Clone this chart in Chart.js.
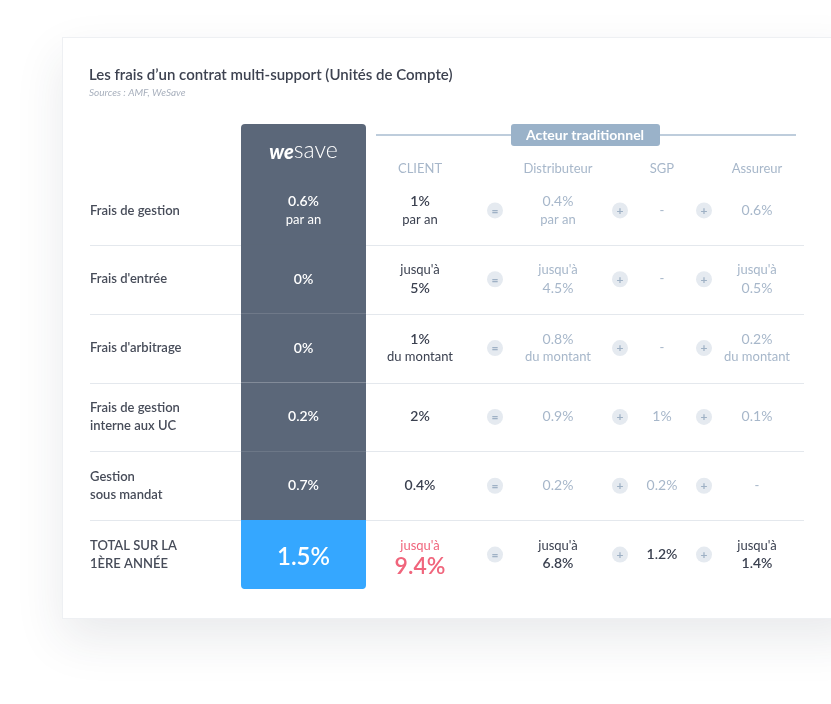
<!DOCTYPE html>
<html><head><meta charset="utf-8">
<script src="https://cdn.jsdelivr.net/npm/chart.js@4"></script>
<style>
body{margin:0;background:#fff;width:831px;height:704px;overflow:hidden;position:relative}
#card{position:absolute;left:62px;top:37px;width:800px;height:580px;background:#fff;border:1px solid #eef0f3;box-shadow:0 20px 45px rgba(40,50,70,0.10)}
canvas{display:block}
</style></head><body>
<div id="card"><canvas id="feesChart" width="800" height="580"></canvas></div>
<script>
const rowLabels = [
  ["Frais de gestion"], ["Frais d'entrée"], ["Frais d'arbitrage"],
  ["Frais de gestion", "interne aux UC"], ["Gestion", "sous mandat"], ["TOTAL SUR LA", "1ÈRE ANNÉE"]
];
const wesave = [["0.6%", "par an"], ["0%"], ["0%"], ["0.2%"], ["0.7%"], ["1.5%"]];
const client = [["1%", "par an"], ["jusqu'à", "5%"], ["1%", "du montant"], ["2%"], ["0.4%"], ["jusqu'à", "9.4%"]];
const distributeur = [["0.4%", "par an"], ["jusqu'à", "4.5%"], ["0.8%", "du montant"], ["0.9%"], ["0.2%"], ["jusqu'à", "6.8%"]];
const sgp = [["-"], ["-"], ["-"], ["1%"], ["0.2%"], ["1.2%"]];
const assureur = [["0.6%"], ["jusqu'à", "0.5%"], ["0.2%", "du montant"], ["0.1%"], ["-"], ["jusqu'à", "1.4%"]];
const headers = ["CLIENT", "Distributeur", "SGP", "Assureur"];

// layout (card pixels on the x scale)
const X = { label: 27, wesaveL: 178, wesaveR: 303, client: 357, eq: 432, distrib: 495, plus1: 557, sgp: 599, plus2: 641, assureur: 694, lineR: 741 };
const FONT = "Lato, 'Open Sans', sans-serif";
const DARK = "#3b4150", LIGHT = "#a7b7ca", COL = "#5b6779", BLUE = "#35a7ff";

const labelsIdx = rowLabels.map((r, i) => i);
const last = rowLabels.length - 1;

const tablePlugin = {
  id: "table",
  beforeDatasetsDraw(chart) {
    const { ctx } = chart, y = chart.scales.y;
    ctx.save();
    ctx.strokeStyle = "#e4e8ed"; ctx.lineWidth = 1;
    for (let i = 0; i < last; i++) {
      const yy = Math.round((y.getPixelForValue(i) + y.getPixelForValue(i + 1)) / 2) + 0.5;
      ctx.beginPath(); ctx.moveTo(X.label, yy); ctx.lineTo(X.lineR, yy); ctx.stroke();
    }
    // column header part above first row
    const top = y.getPixelForValue(0) - (y.getPixelForValue(1) - y.getPixelForValue(0)) / 2;
    ctx.fillStyle = COL;
    ctx.beginPath(); ctx.roundRect(X.wesaveL, 86, X.wesaveR - X.wesaveL, top - 86 + 1, [4, 4, 0, 0]); ctx.fill();
    ctx.restore();
  },
  afterDatasetsDraw(chart) {
    const { ctx } = chart, y = chart.scales.y;
    ctx.save();
    ctx.textBaseline = "middle"; ctx.textAlign = "left";
    ctx.fillStyle = "#3d4250"; ctx.font = "600 15px " + FONT;
    ctx.fillText("Les frais d’un contrat multi-support (Unités de Compte)", 26, 37);
    ctx.fillStyle = "#a8b0bd"; ctx.font = "italic 10px " + FONT;
    ctx.fillText("Sources : AMF, WeSave", 26, 55);

    // logo
    const lx = (X.wesaveL + X.wesaveR) / 2;
    ctx.fillStyle = "#fff"; ctx.font = "italic 900 20px " + FONT;
    const w1 = ctx.measureText("we").width;
    ctx.font = "300 23px " + FONT;
    const w2 = ctx.measureText("save").width;
    const sx = lx - (w1 + w2) / 2;
    ctx.font = "italic 900 20px " + FONT; ctx.fillText("we", sx, 115);
    ctx.font = "300 23px " + FONT; ctx.fillText("save", sx + w1, 113);

    // Acteur traditionnel
    ctx.strokeStyle = "#a9bdd0"; ctx.lineWidth = 1.5;
    ctx.beginPath(); ctx.moveTo(313, 97); ctx.lineTo(733, 97); ctx.stroke();
    ctx.fillStyle = "#9ab2c9";
    ctx.beginPath(); ctx.roundRect(448, 86, 149, 22, 3); ctx.fill();
    ctx.fillStyle = "#fff"; ctx.font = "bold 14px " + FONT; ctx.textAlign = "center";
    ctx.fillText("Acteur traditionnel", 522, 97);

    ctx.fillStyle = LIGHT; ctx.font = "13px " + FONT;
    [X.client, X.distrib, X.sgp, X.assureur].forEach((x, i) => ctx.fillText(headers[i], x, 131));

    const cell = (lines, x, yc, color, boldPct, big) => {
      const n = lines.length;
      lines.forEach((t, k) => {
        const yy = yc + (k - (n - 1) / 2) * 18;
        const isPct = /%/.test(t);
        let size = isPct ? 14 : 13;
        if (big && isPct) size = big;
        ctx.font = (isPct && boldPct ? "600 " : "") + size + "px " + FONT;
        ctx.fillStyle = color;
        ctx.fillText(t, x, big && isPct ? yy + 3 : yy);
      });
    };
    const sign = (x, yc, s) => {
      ctx.fillStyle = "#e5eaf0";
      ctx.beginPath(); ctx.arc(x, yc, 8, 0, Math.PI * 2); ctx.fill();
      ctx.fillStyle = "#9fb1c5"; ctx.font = "bold 12px " + FONT;
      ctx.fillText(s, x, yc + 0.5);
    };

    labelsIdx.forEach(i => {
      const yc = y.getPixelForValue(i);
      const tot = i === last;
      ctx.textAlign = "left"; ctx.fillStyle = "#474c59"; ctx.font = "600 13px " + FONT;
      rowLabels[i].forEach((t, k) => ctx.fillText(t, X.label, yc + (k - (rowLabels[i].length - 1) / 2) * 18));
      ctx.textAlign = "center";
      cell(wesave[i], lx, yc, "#fff", true, tot ? 24 : 0);
      cell(client[i], X.client, yc, tot ? "#f0657c" : DARK, true, tot ? 23 : 0);
      cell(distributeur[i], X.distrib, yc, tot ? DARK : LIGHT, tot, 0);
      cell(sgp[i], X.sgp, yc, tot ? DARK : LIGHT, tot, 0);
      cell(assureur[i], X.assureur, yc, tot ? DARK : LIGHT, tot, 0);
      sign(X.eq, yc, "=");
      sign(X.plus1, yc, "+");
      sign(X.plus2, yc, "+");
    });
    ctx.restore();
  }
};

new Chart(document.getElementById("feesChart"), {
  type: "bar",
  data: {
    labels: labelsIdx,
    datasets: [{
      data: labelsIdx.map(() => [X.wesaveL, X.wesaveR]),
      backgroundColor: labelsIdx.map(i => i === last ? BLUE : COL),
      borderWidth: 0,
      borderRadius: labelsIdx.map(i => i === last ? { bottomLeft: 4, bottomRight: 4, topLeft: 0, topRight: 0 } : 0),
      borderSkipped: false,
      barPercentage: 1.002,
      categoryPercentage: 1
    }]
  },
  options: {
    indexAxis: "y",
    responsive: false,
    animation: false,
    layout: { padding: { top: 138, bottom: 29, left: 0, right: 0 } },
    plugins: { legend: { display: false }, tooltip: { enabled: false } },
    scales: {
      x: { type: "linear", min: 0, max: 800, display: false },
      y: { type: "category", offset: true, display: false }
    }
  },
  plugins: [tablePlugin]
});
</script>
</body></html>
